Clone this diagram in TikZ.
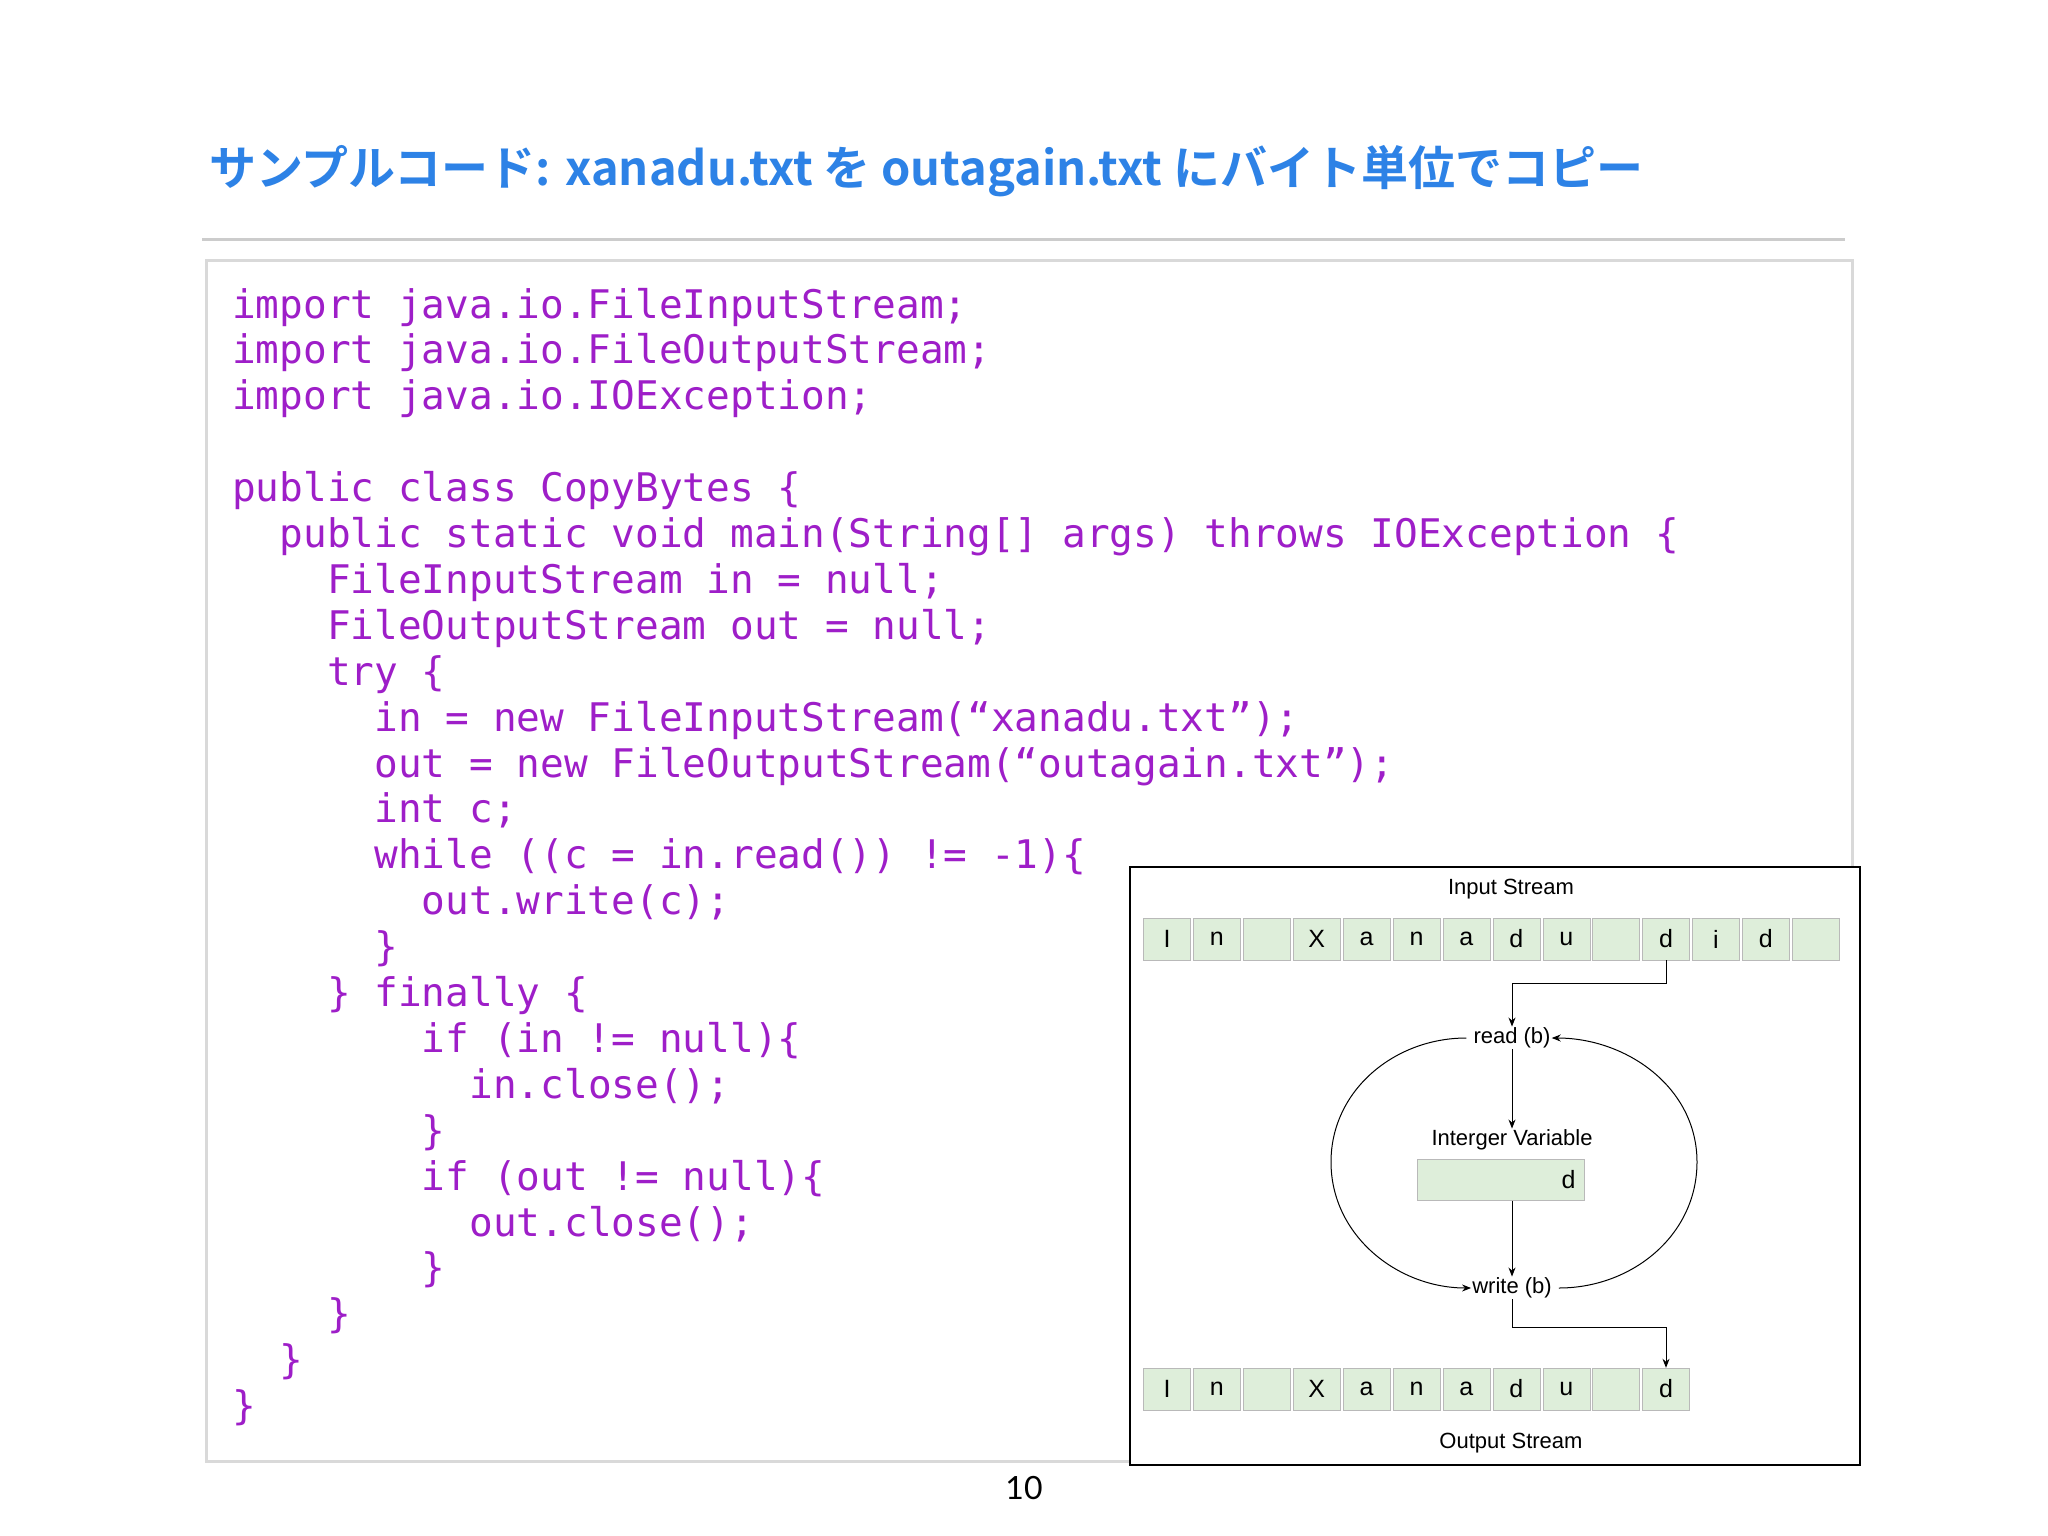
\documentclass[tikz,border=0pt]{standalone}
\usepackage{fontspec}
\setmonofont{DejaVu Sans Mono}
\newfontfamily\jpfont{Noto Sans CJK JP Bold}
\newfontfamily\dgfont{Liberation Sans}
\newfontfamily\pgfont{Lato}
\definecolor{titleblue}{RGB}{45,130,230}
\definecolor{codepurple}{RGB}{158,30,200}
\definecolor{cellgreen}{RGB}{222,238,218}
\usetikzlibrary{arrows.meta}
\tikzset{
  codeline/.style={anchor=base west,inner sep=0,font=\ttfamily\fontsize{39.4}{46}\selectfont,text=codepurple},
  cellbox/.style={draw=gray!55,fill=cellgreen,minimum width=47pt,minimum height=42pt,inner sep=0,font=\dgfont\fontsize{25}{28}\selectfont},
  lbl/.style={inner sep=1pt,font=\dgfont\fontsize{22}{26}\selectfont},
  arr/.style={-{Stealth[length=9pt,width=7pt]},line width=1pt},
}
\begin{document}
\begin{tikzpicture}[x=1pt,y=-1pt]
\useasboundingbox (0,0) rectangle (2048,1536);
\fill[white] (0,0) rectangle (2048,1536);
\node[anchor=base west,inner sep=0,text=titleblue,font=\jpfont\fontsize{47}{52}\selectfont] (title) at (209,185) {サンプルコード: xanadu.txt を outagain.txt にバイト単位でコピー};
\draw[gray!40,line width=3pt] (202,239) -- (1845,239);
\draw[gray!30,line width=3pt] (206,260) rectangle (1852,1461);
\foreach \i/\t in {0/{import java.io.FileInputStream;},1/{import java.io.FileOutputStream;},2/{import java.io.IOException;},
4/{public class CopyBytes \{},5/{\ \ public static void main(String[] args) throws IOException \{},
6/{\ \ \ \ FileInputStream in = null;},7/{\ \ \ \ FileOutputStream out = null;},8/{\ \ \ \ try \{},
9/{\ \ \ \ \ \ in = new FileInputStream(“xanadu.txt”);},10/{\ \ \ \ \ \ out = new FileOutputStream(“outagain.txt”);},
11/{\ \ \ \ \ \ int c;},12/{\ \ \ \ \ \ while ((c = in.read()) != -1)\{},13/{\ \ \ \ \ \ \ \ out.write(c);},
14/{\ \ \ \ \ \ \}},15/{\ \ \ \ \} finally \{},16/{\ \ \ \ \ \ \ \ if (in != null)\{},17/{\ \ \ \ \ \ \ \ \ \ in.close();},
18/{\ \ \ \ \ \ \ \ \}},19/{\ \ \ \ \ \ \ \ if (out != null)\{},20/{\ \ \ \ \ \ \ \ \ \ out.close();},21/{\ \ \ \ \ \ \ \ \}},
22/{\ \ \ \ \}},23/{\ \ \}},24/{\}}}
  \node[codeline] (code\i) at (232,{318+45.9*\i}) {\t};
% diagram
\draw[black,fill=white,line width=1.5pt] (1130,867) rectangle (1860,1465);
\node[lbl] (instream) at (1511,889) {Input Stream};
\node[lbl] (outstream) at (1511,1443) {Output Stream};
\foreach \k/\c in {0/I,1/n,2/{},3/X,4/a,5/n,6/a,7/d,8/u,9/{},10/d,11/i,12/d,13/{}}
  \node[cellbox] (in\k) at ({1167+49.9*\k},939) {\c};
\foreach \k/\c in {0/I,1/n,2/{},3/X,4/a,5/n,6/a,7/d,8/u,9/{},10/d}
  \node[cellbox] (out\k) at ({1167+49.9*\k},1389) {\c};
\node[lbl] (read) at (1512,1038) {read (b)};
\node[lbl] (ivlab) at (1512,1140) {Interger Variable};
\node[draw=gray!55,fill=cellgreen,minimum width=167pt,minimum height=41pt,inner sep=0] (var) at (1501,1180) {};
\node[lbl,anchor=east,font=\dgfont\fontsize{25}{28}\selectfont] (vard) at ([xshift=-8pt]var.east) {d};
\node[lbl] (write) at (1512,1288) {write (b)};
\coordinate (c1) at (1512,983);
\draw[arr] (in10.south) |- (c1) -- (c1|-read.north);
\draw[arr] (read.south-|c1) -- (c1|-ivlab.north);
\draw[arr] (var.south-|c1) -- (c1|-write.north);
\coordinate (c2) at (1512,1327);
\draw[arr] (write.south-|c2) -- (c2) -| (out10.north);
\draw[arr] ([xshift=-6pt]read.west) to[out=180,in=90] (1331,1162) to[out=-90,in=180] (write.west);
\draw[arr] ([xshift=6pt]write.east) to[out=0,in=-90] (1697,1162) to[out=90,in=0] (read.east);
\node[inner sep=0,font=\pgfont\fontsize{32}{36}\selectfont] (page) at (1024,1488) {10};
\end{tikzpicture}
\end{document}
